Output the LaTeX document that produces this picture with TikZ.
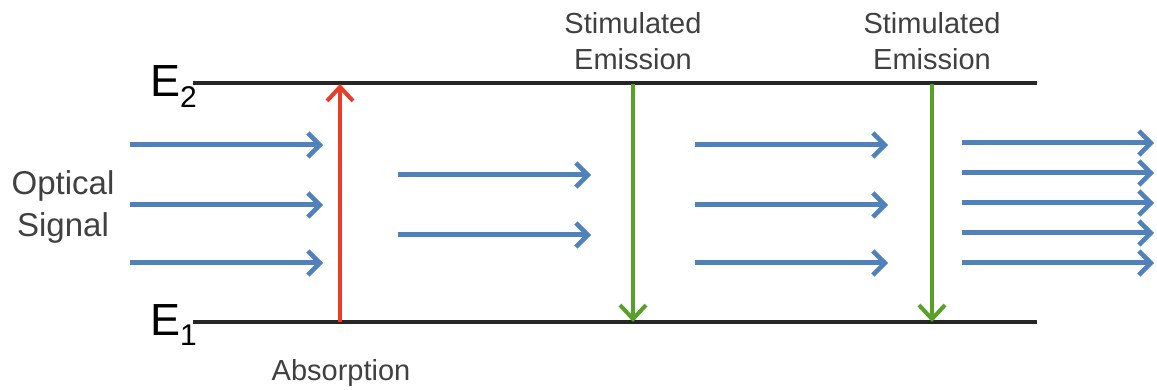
\documentclass[tikz,border=0pt]{standalone}
\usepackage{fontspec}
\setmainfont{Liberation Sans}
\usetikzlibrary{arrows.meta}
\definecolor{sigblue}{RGB}{79,129,189}
\definecolor{absred}{RGB}{235,60,40}
\definecolor{emgreen}{RGB}{88,160,40}
\begin{document}
\begin{tikzpicture}[x=1pt,y=-1pt,
  level/.style={line width=4pt,black!85},
  photon/.style={line width=5pt,sigblue,-{Straight Barb[length=12pt,width=24pt,line width=4.5pt]}},
  upward/.style={line width=4pt,absred,-{Straight Barb[length=14pt,width=26pt,line width=4pt]}},
  downward/.style={line width=4pt,emgreen,-{Straight Barb[length=14pt,width=26pt,line width=4pt]}},
  lbl/.style={font=\fontsize{29}{36}\selectfont,text=black!75,align=center,inner sep=0pt},
  elbl/.style={font=\fontsize{45}{50}\selectfont,inner sep=0pt},
  sub/.style={font=\fontsize{30}{32}\selectfont,inner sep=0pt,anchor=north west}]
\useasboundingbox (0,0) rectangle (1157,390);
% energy levels
\coordinate (e2a) at (193,83);  \coordinate (e2b) at (1037,83);
\coordinate (e1a) at (193,322); \coordinate (e1b) at (1037,322);
\draw[level] (e2a) -- (e2b);
\draw[level] (e1a) -- (e1b);
\node[elbl,anchor=south east] (E2) at (181,97) {E};
\node[sub] (E2s) at (E2.south east) [xshift=-1pt,yshift=11pt] {2};
\node[elbl,anchor=south east] (E1) at (181,336) {E};
\node[sub] (E1s) at (E1.south east) [xshift=-1pt,yshift=11pt] {1};
% transitions
\coordinate (ra) at (340,322); \coordinate (rb) at (340,84);
\draw[upward] (ra) -- (rb);
\coordinate (ga) at (633,84); \coordinate (gb) at (633,322);
\draw[downward] (ga) -- (gb);
\coordinate (ha) at (932,84); \coordinate (hb) at (932,322);
\draw[downward] (ha) -- (hb);
% photons
\foreach \y in {145,205,263} {
  \coordinate (pa\y) at (130,\y); \coordinate (pb\y) at (323,\y);
  \draw[photon] (pa\y) -- (pb\y);
  \coordinate (qa\y) at (695,\y); \coordinate (qb\y) at (888,\y);
  \draw[photon] (qa\y) -- (qb\y);
}
\foreach \y in {175,235} {
  \coordinate (ma\y) at (398,\y); \coordinate (mb\y) at (591,\y);
  \draw[photon] (ma\y) -- (mb\y);
}
\foreach \y in {143,173,203,233,263} {
  \coordinate (oa\y) at (962,\y); \coordinate (ob\y) at (1154,\y);
  \draw[photon] (oa\y) -- (ob\y);
}
% labels
\node[lbl,font=\fontsize{33}{42}\selectfont] (sig) at (63,207) {Optical\\Signal};
\node[lbl] (st1) at (633,41) {Stimulated\\Emission};
\node[lbl] (st2) at (932,41) {Stimulated\\Emission};
\node[lbl] (abs) at (341,373) {Absorption};
\end{tikzpicture}
\end{document}
